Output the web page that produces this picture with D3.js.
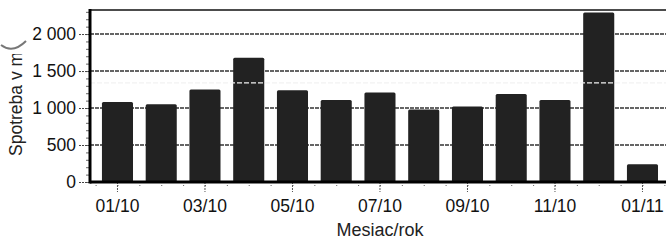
<!DOCTYPE html>
<html>
<head>
<meta charset="utf-8">
<script src="https://cdn.jsdelivr.net/npm/d3@7"></script>
<style>
    body { margin: 0; background: #fff; }
    svg { display: block; font-family: "Liberation Sans", Arial, sans-serif; }
</style>
</head>
<body>
<script>
(function(){

// data
var months = ["01/10", "02/10", "03/10", "04/10", "05/10", "06/10", "07/10", "08/10", "09/10", "10/10", "11/10", "12/10", "01/11"];
var consumption = [1080, 1050, 1250, 1680, 1240, 1110, 1210, 980, 1020, 1190, 1110, 2290, 240];
var xLabels = ["01/10", "03/10", "05/10", "07/10", "09/10", "11/10", "01/11"];
var yTicks = [0, 500, 1000, 1500, 2000];
var refValue = 1340; // white dashed line seen across the tall bars
var yTitle = "Spotreba v m³";
var xTitle = "Mesiac/rok";

// frame
var width = 666,
    height = 240,
    plotLeft = 90,
    plotTop = 10,
    plotBottom = 182,
    plotRight = 672,
    bandStart = 95.6,
    bandStep = 43.75,
    fontSize = 17.5;

var svg = d3.select("body")
    .append("svg")
    .attr("width", width)
    .attr("height", height);

// scales
var x = d3.scaleBand()
    .domain(months)
    .range([bandStart, bandStart + bandStep * months.length])
    .paddingInner(0.29)
    .paddingOuter(0.145);

// index scale for tick marks between and under bars
var xIdx = d3.scaleLinear()
    .domain([0, months.length])
    .range(x.range());

var y = d3.scaleLinear()
    .domain([0, 2325])
    .range([plotBottom, plotTop]);

var fmt = d3.formatLocale({decimal: ",", thousands: " ", grouping: [3], currency: ["", ""]}).format(",");

// gridlines
svg.append("g")
    .selectAll("line")
    .data(yTicks.filter(function(d){ return d > 0; }))
    .enter()
    .append("line")
    .attr("x1", plotLeft)
    .attr("x2", plotRight)
    .attr("y1", function(d){ return y(d); })
    .attr("y2", function(d){ return y(d); })
    .attr("stroke", "#333")
    .attr("stroke-width", 1.4)
    .attr("stroke-dasharray", "4,1");

// top frame line
svg.append("line")
    .attr("x1", plotLeft).attr("x2", plotRight)
    .attr("y1", plotTop).attr("y2", plotTop)
    .attr("stroke", "#111")
    .attr("stroke-width", 1.6);

// bars
svg.append("g")
    .selectAll("rect")
    .data(consumption)
    .enter()
    .append("rect")
    .attr("x", function(d, i){ return x(months[i]); })
    .attr("y", function(d){ return y(d); })
    .attr("width", x.bandwidth())
    .attr("height", function(d){ return plotBottom - y(d); })
    .attr("rx", 1.5)
    .attr("fill", "#222");

// reference line (only shows on dark bars)
svg.append("line")
    .attr("x1", plotLeft).attr("x2", plotRight)
    .attr("y1", y(refValue)).attr("y2", y(refValue))
    .attr("stroke", "#f2f2f2")
    .attr("stroke-width", 1.3)
    .attr("stroke-dasharray", "5,2");

// y axis minor ticks
svg.append("g")
    .attr("transform", "translate(" + plotLeft + ",0)")
    .call(d3.axisLeft(y).tickValues(d3.range(0, 2301, 100)).tickSize(4).tickFormat(""))
    .call(function(g){
        g.select(".domain").remove();
        g.selectAll("line").attr("stroke", "#666");
    });

// y axis major ticks + labels
var yAxis = svg.append("g")
    .attr("transform", "translate(" + plotLeft + ",0)")
    .call(d3.axisLeft(y).tickValues(yTicks).tickSize(11).tickPadding(3).tickFormat(fmt));
yAxis.select(".domain").remove();
yAxis.selectAll("line").attr("stroke", "#444").attr("stroke-dasharray", "2,1");
yAxis.selectAll("text")
    .attr("font-size", fontSize)
    .attr("fill", "#111")
    .style("font-family", "Liberation Sans, Arial, sans-serif");

// x axis minor ticks
svg.append("g")
    .attr("transform", "translate(0," + plotBottom + ")")
    .call(d3.axisBottom(xIdx).tickValues(d3.range(0, months.length + 0.01, 0.5)).tickSize(6).tickFormat(""))
    .call(function(g){
        g.select(".domain").remove();
        g.selectAll("line").attr("stroke", "#666").attr("stroke-dasharray", "1,2");
    });

// x axis labels
var xAxis = svg.append("g")
    .attr("transform", "translate(0," + plotBottom + ")")
    .call(d3.axisBottom(x).tickValues(xLabels).tickSize(10).tickPadding(8));
xAxis.select(".domain").remove();
xAxis.selectAll("line").attr("stroke", "#555").attr("stroke-dasharray", "2,1");
xAxis.selectAll("text")
    .attr("font-size", fontSize)
    .attr("fill", "#111")
    .style("font-family", "Liberation Sans, Arial, sans-serif");

// axis lines
svg.append("line")
    .attr("x1", plotLeft).attr("x2", plotLeft)
    .attr("y1", plotTop - 1).attr("y2", plotBottom + 1.5)
    .attr("stroke", "#000")
    .attr("stroke-width", 3);
svg.append("line")
    .attr("x1", plotLeft).attr("x2", plotRight)
    .attr("y1", plotBottom).attr("y2", plotBottom)
    .attr("stroke", "#000")
    .attr("stroke-width", 3);

// axis titles (y title is cut off at the top in the original)
svg.append("clipPath")
    .attr("id", "titleClip")
    .append("rect")
    .attr("x", 0).attr("y", 54)
    .attr("width", 40).attr("height", 150);

svg.append("g")
    .attr("clip-path", "url(#titleClip)")
    .append("text")
    .attr("transform", "translate(22,156) rotate(-90)")
    .attr("text-anchor", "start")
    .attr("font-size", fontSize)
    .attr("fill", "#222")
    .text(yTitle);

// grey pen stroke over the cut title
svg.append("path")
    .attr("d", "M1,45 Q13,54 26,41")
    .attr("fill", "none")
    .attr("stroke", "#777")
    .attr("stroke-width", 2);

svg.append("text")
    .attr("x", 380)
    .attr("y", 236)
    .attr("text-anchor", "middle")
    .attr("font-size", 18)
    .attr("fill", "#222")
    .text(xTitle);

})();
</script>
</body>
</html>
